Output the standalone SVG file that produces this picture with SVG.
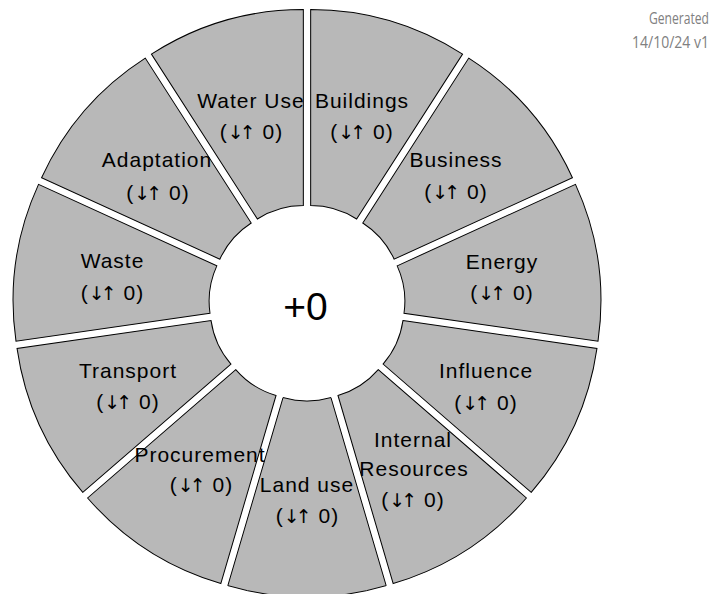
<svg xmlns="http://www.w3.org/2000/svg" xmlns:xlink="http://www.w3.org/1999/xlink" width="715" height="594" viewBox="0 0 715 594">
<style>
.w{fill:#b8b8b8;stroke:#000;stroke-width:1}
.t{font-family:"Liberation Sans",Arial,sans-serif;font-size:21px;letter-spacing:1px;fill:#000;text-anchor:middle}
.a{font-family:"DejaVu Sans",sans-serif;font-size:19px;letter-spacing:-4px}
.b{font-family:"DejaVu Sans",sans-serif;font-size:19px;letter-spacing:0px}
.c{font-family:"Liberation Sans",Arial,sans-serif;font-size:39px;fill:#000;text-anchor:middle}
.g{font-family:"Open Sans","Liberation Sans",sans-serif;font-size:16px;fill:#808080;text-anchor:end}
</style>
<defs>
<path id="wedge" d="M -23.95 -94.56 L -79.17 -282.62 A 281 281 0 0 1 79.17 -282.62 L 23.95 -94.56 A 85 85 0 0 0 -23.95 -94.56 Z"/>
</defs>
<rect width="715" height="594" fill="#fff"/>
<g id="buildings"><use href="#wedge" class="w" transform="translate(307 303) rotate(16.364)"/><text class="t" x="362" y="108">Buildings</text><text class="t" x="362" y="139">(<tspan class="a">↓</tspan><tspan class="b">↑</tspan> 0)</text></g>
<g id="business"><use href="#wedge" class="w" transform="translate(307 303) rotate(49.091)"/><text class="t" x="456" y="167">Business</text><text class="t" x="456" y="199">(<tspan class="a">↓</tspan><tspan class="b">↑</tspan> 0)</text></g>
<g id="energy"><use href="#wedge" class="w" transform="translate(307 303) rotate(81.818)"/><text class="t" x="502" y="269">Energy</text><text class="t" x="502" y="300">(<tspan class="a">↓</tspan><tspan class="b">↑</tspan> 0)</text></g>
<g id="influence"><use href="#wedge" class="w" transform="translate(307 303) rotate(114.545)"/><text class="t" x="486" y="378">Influence</text><text class="t" x="486" y="410">(<tspan class="a">↓</tspan><tspan class="b">↑</tspan> 0)</text></g>
<g id="internal-resources"><use href="#wedge" class="w" transform="translate(307 303) rotate(147.273)"/><text class="t" x="413" y="447">Internal</text><text class="t" x="414" y="476">Resources</text><text class="t" x="413" y="507">(<tspan class="a">↓</tspan><tspan class="b">↑</tspan> 0)</text></g>
<g id="land-use"><use href="#wedge" class="w" transform="translate(307 303) rotate(180)"/><text class="t" x="307" y="492">Land use</text><text class="t" x="307.5" y="523">(<tspan class="a">↓</tspan><tspan class="b">↑</tspan> 0)</text></g>
<g id="procurement"><use href="#wedge" class="w" transform="translate(307 303) rotate(212.727)"/><text class="t" x="200" y="462">Procurement</text><text class="t" x="201.5" y="492">(<tspan class="a">↓</tspan><tspan class="b">↑</tspan> 0)</text></g>
<g id="transport"><use href="#wedge" class="w" transform="translate(307 303) rotate(245.455)"/><text class="t" x="128" y="378">Transport</text><text class="t" x="128" y="409">(<tspan class="a">↓</tspan><tspan class="b">↑</tspan> 0)</text></g>
<g id="waste"><use href="#wedge" class="w" transform="translate(307 303) rotate(278.182)"/><text class="t" x="112.5" y="268">Waste</text><text class="t" x="112.5" y="300">(<tspan class="a">↓</tspan><tspan class="b">↑</tspan> 0)</text></g>
<g id="adaptation"><use href="#wedge" class="w" transform="translate(307 303) rotate(310.909)"/><text class="t" x="157" y="167">Adaptation</text><text class="t" x="158" y="200">(<tspan class="a">↓</tspan><tspan class="b">↑</tspan> 0)</text></g>
<g id="water-use"><use href="#wedge" class="w" transform="translate(307 303) rotate(343.636)"/><text class="t" x="251" y="108">Water Use</text><text class="t" x="251.5" y="139">(<tspan class="a">↓</tspan><tspan class="b">↑</tspan> 0)</text></g>
<g id="centre"><text class="c" x="305.5" y="320">+0</text></g>
<g id="connectors"/>
<g id="stamp"><text class="g" x="709" y="24" textLength="60" lengthAdjust="spacingAndGlyphs">Generated</text><text class="g" x="709" y="48" textLength="77" lengthAdjust="spacingAndGlyphs">14/10/24 v1</text></g>
</svg>
